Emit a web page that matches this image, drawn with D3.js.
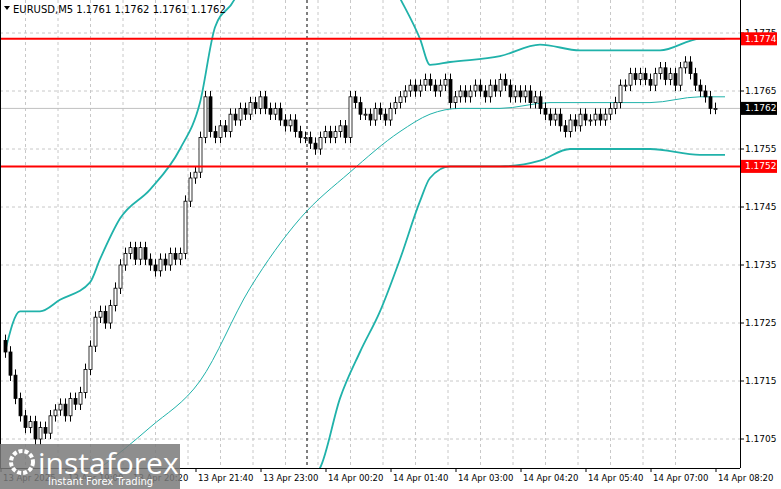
<!DOCTYPE html><html><head><meta charset="utf-8"><script src="https://cdn.jsdelivr.net/npm/d3@7"></script>
<style>body{margin:0;background:#fff}svg{display:block;font-family:"DejaVu Sans",sans-serif}</style></head><body><svg id="c" width="781" height="489"></svg>
<script>
const closes=[1.1720,1.1716,1.1712,1.1709,1.1707,1.1708,1.1705,1.1707,1.1706,1.1709,
1.1710,1.1711,1.1709,1.1712,1.1711,1.1713,1.1717,1.1721,1.1726,1.1727,
1.1725,1.1728,1.1731,1.1735,1.1737,1.1738,1.1736,1.1738,1.1736,1.1735,
1.1734,1.1736,1.1735,1.1737,1.1736,1.1737,1.1746,1.1750,1.1751,1.1757,
1.1764,1.1758,1.1757,1.1759,1.1758,1.1761,1.1760,1.1762,1.1761,1.1763,
1.1762,1.1764,1.1762,1.1761,1.1762,1.1760,1.1759,1.1760,1.1758,1.1757,
1.1757,1.1756,1.1755,1.1757,1.1758,1.1757,1.1758,1.1759,1.1757,1.1764,
1.1763,1.1761,1.1761,1.1760,1.1762,1.1761,1.1760,1.1762,1.1763,1.1764,
1.1765,1.1766,1.1765,1.1766,1.1767,1.1766,1.1765,1.1766,1.1767,1.1763,
1.1764,1.1765,1.1764,1.1765,1.1766,1.1765,1.1764,1.1766,1.1765,1.1767,
1.1766,1.1764,1.1765,1.1764,1.1765,1.1763,1.1764,1.1762,1.1761,1.1760,
1.1761,1.1759,1.1758,1.1760,1.1759,1.1761,1.1760,1.1760,1.1761,1.1760,
1.1761,1.1762,1.1763,1.1766,1.1766,1.1768,1.1767,1.1768,1.1767,1.1766,
1.1768,1.1769,1.1767,1.1768,1.1766,1.1769,1.1770,1.1768,1.1766,1.1765,
1.1764,1.1762,1.1762];
const firstOpen=1.1722;
const upperBand=[[0,1.1720],[3,1.1727],[7,1.1727],[11,1.1729],[17,1.1732],[19,1.1736],[23,1.1743],[29,1.1748],[35,1.1755],[39,1.1763],[42,1.1776],[46,1.1781],[50,1.1792],[70,1.1795],[79,1.1781],[83,1.1774],[85,1.17695],[89,1.1770],[99,1.1771],[107,1.1773],[115,1.1772],[123,1.1772],[131,1.1772],[139,1.1774],[144,1.1774]];
const middleBand=[[0,1.1690],[19,1.1700],[29,1.1707],[39,1.1715],[49,1.1731],[59,1.1743],[69,1.1751],[79,1.1758],[85,1.1761],[91,1.1762],[99,1.1762],[109,1.1763],[119,1.1763],[129,1.1763],[139,1.1764],[144,1.1764]];
const lowerBand=[[0,1.1680],[50,1.1690],[63,1.1700],[67,1.1712],[71,1.1720],[75,1.1727],[79,1.1736],[83,1.1746],[85,1.1750],[89,1.1752],[99,1.1752],[107,1.1753],[113,1.1755],[119,1.1755],[129,1.1755],[139,1.1754],[144,1.1754]];
const priceTicks=[1.1705,1.1715,1.1725,1.1735,1.1745,1.1755,1.1765,1.1775];
const timeLabels=["13 Apr 2025","13 Apr 19:00","13 Apr 20:20","13 Apr 21:40","13 Apr 23:00","14 Apr 00:20","14 Apr 01:40","14 Apr 03:00","14 Apr 04:20","14 Apr 05:40","14 Apr 07:00","14 Apr 08:20"];
const levels=[1.1774,1.1752];
const current=1.1762;

const svg=d3.select("#c");
const W=740,H=468;
const x=d3.scaleLinear().domain([0,1]).range([5,10]);
const y=d3.scaleLinear().domain([1.1765,1.1755]).range([91,149]);
const tx=d3.scaleLinear().domain([0,1]).range([0,65]);
const g=svg.append("g");
svg.append("defs").append("clipPath").attr("id","cp").append("rect").attr("width",W).attr("height",H);
const p=g.append("g").attr("clip-path","url(#cp)");
priceTicks.forEach(t=>p.append("line").attr("x1",0).attr("x2",W).attr("y1",y(t)).attr("y2",y(t)).attr("stroke","#c8c8c8").attr("stroke-dasharray","3,3"));
d3.range(-1,21).forEach(k=>{const gx=643-32.5*k;p.append("line").attr("x1",gx).attr("x2",gx).attr("y1",0).attr("y2",H).attr("stroke","#c8c8c8").attr("stroke-dasharray","3,3");});
p.append("line").attr("x1",307).attr("x2",307).attr("y1",0).attr("y2",H).attr("stroke","#000").attr("stroke-dasharray","3,3");
p.append("line").attr("x1",0).attr("x2",W).attr("y1",y(current)).attr("y2",y(current)).attr("stroke","#c0c0c0");
const line=d3.line().x(d=>x(d[0])).y(d=>y(d[1])).curve(d3.curveMonotoneX);
p.append("path").attr("d",line(upperBand)).attr("fill","none").attr("stroke","#20b2aa").attr("stroke-width",1.8);
p.append("path").attr("d",line(lowerBand)).attr("fill","none").attr("stroke","#20b2aa").attr("stroke-width",1.8);
p.append("path").attr("d",line(middleBand)).attr("fill","none").attr("stroke","#20b2aa").attr("stroke-width",1);
closes.forEach((c,i)=>{const o=i?closes[i-1]:firstOpen;const hi=Math.max(o,c)+0.0001,lo=Math.min(o,c)-0.0001;
 const cx=Math.round(x(i))+0.5;
 p.append("line").attr("x1",cx).attr("x2",cx).attr("y1",y(hi)).attr("y2",y(lo)).attr("stroke","#000");
 const top=y(Math.max(o,c)),bh=Math.max(1,Math.abs(y(o)-y(c)));
 p.append("rect").attr("x",cx-1.5).attr("y",top).attr("width",3).attr("height",bh).attr("fill",c<o?"#000":"#fff").attr("stroke","#000").attr("stroke-width",0.8);
});
levels.forEach(l=>p.append("line").attr("x1",0).attr("x2",W).attr("y1",y(l)).attr("y2",y(l)).attr("stroke","#f00").attr("stroke-width",2));
g.append("line").attr("x1",W+0.5).attr("x2",W+0.5).attr("y1",0).attr("y2",H).attr("stroke","#000");
g.append("line").attr("x1",0).attr("x2",W).attr("y1",H+0.5).attr("y2",H+0.5).attr("stroke","#000");
g.append("line").attr("x1",0.5).attr("x2",0.5).attr("y1",0).attr("y2",H).attr("stroke","#000");
priceTicks.forEach(t=>{g.append("line").attr("x1",W).attr("x2",W+4).attr("y1",y(t)).attr("y2",y(t)).attr("stroke","#000");
 g.append("text").attr("x",745).attr("y",y(t)+3).attr("font-size",9).text(t.toFixed(4));});
const box=(v,bg)=>{g.append("rect").attr("x",741).attr("y",y(v)-6.5).attr("width",36).attr("height",13).attr("fill",bg);
 g.append("text").attr("x",745).attr("y",y(v)+3).attr("font-size",9).attr("fill","#fff").text(v.toFixed(4));};
levels.forEach(l=>box(l,"#f00"));box(current,"#000");
timeLabels.forEach((t,k)=>{const X=tx(k);g.append("line").attr("x1",X+1).attr("x2",X+1).attr("y1",H).attr("y2",H+4).attr("stroke","#000");
 g.append("text").attr("x",X+3).attr("y",481).attr("font-size",8.5).text(t);});
g.append("path").attr("d","M4,6 L10,6 L7,10 Z").attr("fill","#000");
g.append("text").attr("x",13).attr("y",13).attr("font-size",10).text("EURUSD,M5  1.1761 1.1762 1.1761 1.1762");
g.append("rect").attr("x",0).attr("y",444).attr("width",180).attr("height",45).attr("fill","#7a7a7a").attr("opacity",0.85);
g.append("circle").attr("cx",22).attr("cy",462).attr("r",11).attr("fill","none").attr("stroke","#fff").attr("stroke-width",4).attr("stroke-dasharray","4,2");
g.append("text").attr("x",38).attr("y",474).attr("font-size",30).attr("fill","#fff").attr("font-family","Open Sans,sans-serif").text("instaforex");
g.append("text").attr("x",48).attr("y",485).attr("font-size",10).attr("fill","#fff").text("Instant Forex Trading");
</script></body></html>
